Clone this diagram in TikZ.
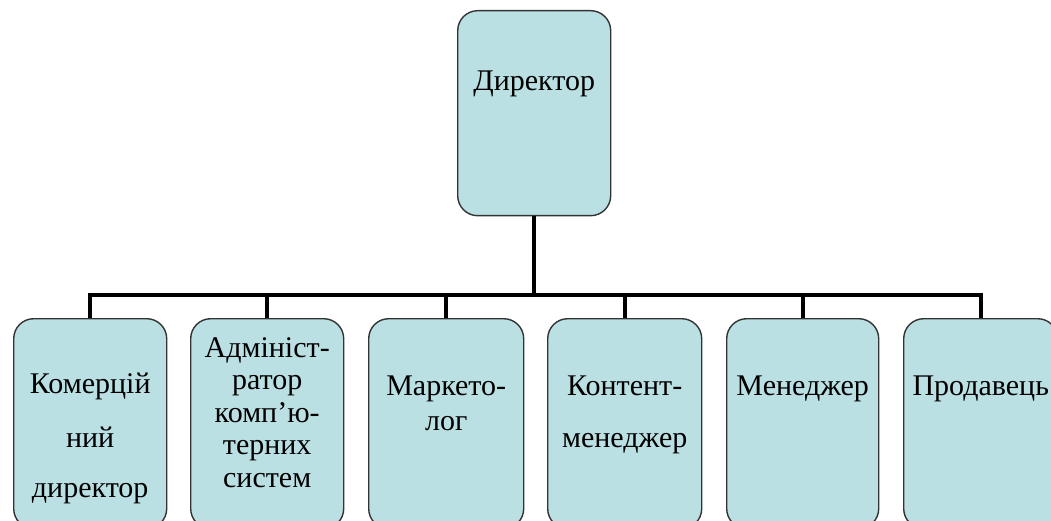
\documentclass[tikz,border=0pt]{standalone}
\usepackage{fontspec}
\setmainfont{Liberation Serif}
\newfontfamily\cyrserif{Liberation Serif}
\definecolor{boxfill}{HTML}{BBE0E3}
\definecolor{boxline}{HTML}{333333}
\begin{document}
\begin{tikzpicture}[x=1pt,y=-1pt,
  orgbox/.style={draw=boxline, fill=boxfill, line width=1.4pt, rounded corners=20pt,
    minimum width=153pt, inner sep=0pt, anchor=north west},
  conn/.style={draw=black, line width=4pt, line join=miter},
  lbl/.style={anchor=base, inner sep=0pt, font=\cyrserif\fontsize{30}{34}\selectfont}]
\useasboundingbox (0,0) rectangle (1051,521);
\clip (0,0) rectangle (1051,521);
% boxes
\node[orgbox, minimum height=205pt] (dir) at (457,10) {};
\node[orgbox, minimum height=210pt] (b1) at (13,318) {};
\node[orgbox, minimum height=210pt] (b2) at (190,318) {};
\node[orgbox, minimum height=210pt, minimum width=155pt] (b3) at (368,318) {};
\node[orgbox, minimum height=210pt, minimum width=154pt] (b4) at (547,318) {};
\node[orgbox, minimum height=210pt, minimum width=152pt] (b5) at (726,318) {};
\node[orgbox, minimum height=210pt, minimum width=154pt] (b6) at (903,318) {};
% connectors
\coordinate (bus) at (0,295);
\foreach \b in {b1,b2,b3,b4,b5,b6}{
  \draw[conn] (dir.south) |- (bus -| \b.north) -- (\b.north);
}
% labels
\node[lbl] (tdir) at (dir.north |- 0,91) {Директор};
\node[lbl] (t1a) at (b1.north |- 0,393) {Комерцій};
\node[lbl] (t1b) at (b1.north |- 0,447) {ний};
\node[lbl] (t1c) at (b1.north |- 0,497) {директор};
\node[lbl] (t2a) at (b2.north |- 0,357) {Адмініст-};
\node[lbl] (t2b) at (b2.north |- 0,389.5) {ратор};
\node[lbl] (t2c) at (b2.north |- 0,422) {комп’ю-};
\node[lbl] (t2d) at (b2.north |- 0,454.5) {терних};
\node[lbl] (t2e) at (b2.north |- 0,487) {систем};
\node[lbl] (t3a) at (b3.north |- 0,395) {Маркето-};
\node[lbl] (t3b) at (b3.north |- 0,430) {лог};
\node[lbl] (t4a) at (b4.north |- 0,395) {Контент-};
\node[lbl] (t4b) at (b4.north |- 0,447) {менеджер};
\node[lbl] (t5a) at (b5.north |- 0,395) {Менеджер};
\node[lbl] (t6a) at (b6.north |- 0,395) {Продавець};
\end{tikzpicture}
\end{document}
